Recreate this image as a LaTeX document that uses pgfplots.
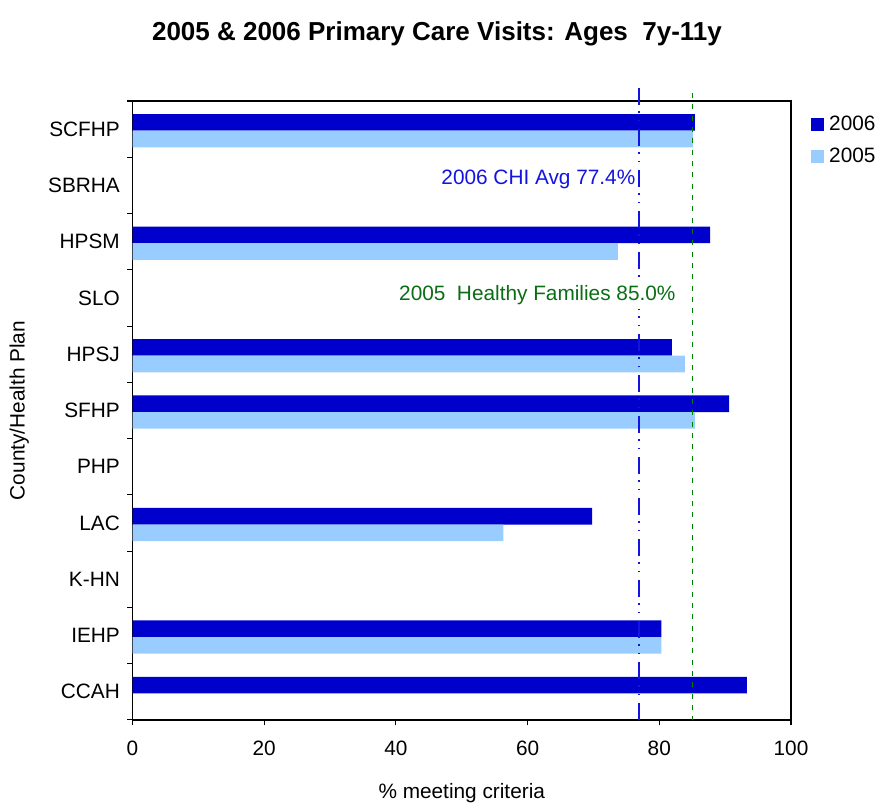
\documentclass[border=0pt]{standalone}
\usepackage{pgfplots}
\pgfplotsset{compat=1.18}
\usepackage{fontspec}
\setmainfont{Liberation Sans}
\definecolor{darkbar}{RGB}{0,0,204}
\definecolor{lightbar}{RGB}{153,204,255}
\definecolor{refblue}{RGB}{20,20,225}
\definecolor{refgreen}{RGB}{0,128,0}
\definecolor{txtgreen}{RGB}{10,110,20}
\newcommand\tf{\fontsize{15.6}{18}\selectfont}
\begin{document}
\begin{tikzpicture}
\useasboundingbox (-99.4pt,-63.75pt) rectangle (558.4pt,540pt);
\begin{axis}[
  scale only axis,
  width=493.9pt, height=464.25pt,
  xmin=0, xmax=100, ymin=-0.5, ymax=10.5,
  xbar, bar width=0.295,
  clip=false,
  axis line style={line width=1pt},
  xtick={0,20,40,60,80,100},
  ytick={0,...,10},
  yticklabels={CCAH,IEHP,K-HN,LAC,PHP,SFHP,HPSJ,SLO,HPSM,SBRHA,SCFHP},
  minor ytick={-0.5,0.5,...,10.5},
  tick align=outside,
  xtick pos=bottom, ytick pos=left,
  major tick length=4pt, minor tick length=4pt,
  y tick style={draw=none},
  minor y tick style={draw=black, line width=0.8pt},
  x tick style={line width=0.8pt, black},
  /pgf/number format/assume math mode=true,
  tick label style={font=\tf},
  xticklabel style={yshift=-8pt},
  yticklabel style={xshift=-2pt},
  xlabel={\% meeting criteria},
  ylabel={County/Health Plan},
  xlabel style={font=\tf, at={(axis description cs:0.5,-0.118)}, anchor=center},
  ylabel style={font=\tf, at={(axis description cs:-0.172,0.5)}, anchor=center},
  legend style={at={(axis description cs:1.028,0.982)}, anchor=north west, draw=none, fill=none, font=\tf, row sep=7.5pt, inner sep=1pt},
  legend cell align=left,
  legend image code/.code={\fill[#1] (0pt,-4.8pt) rectangle (9.6pt,4.8pt);},
]
\addplot[fill=darkbar, draw=none, bar shift=0.12] coordinates {
  (93.3,0) (80.3,1) (69.8,3) (90.6,5) (81.9,6) (87.7,8) (85.4,10)
};
\addlegendentry{\hspace{2pt}2006}
\addplot[fill=lightbar, draw=none, bar shift=-0.175] coordinates {
  (80.3,1) (56.3,3) (85.4,5) (83.9,6) (73.7,8) (85.1,10)
};
\addlegendentry{\hspace{2pt}2005}
\addplot[forget plot, no marks, sharp plot, refblue, line width=1.5pt,
  dash pattern=on 12.5pt off 5pt on 1pt off 5.5pt on 1pt off 5.75pt]
  coordinates {(76.9,10.73) (76.9,-0.5)};
\addplot[forget plot, no marks, sharp plot, refgreen, line width=1.1pt,
  dash pattern=on 3.75pt off 4.75pt]
  coordinates {(85.0,10.64) (85.0,-0.5)};
\node[anchor=east, text=refblue, font=\tf, fill=white, inner xsep=1pt, inner ysep=3pt] at (axis cs:76.6,9.1) {2006 CHI Avg 77.4\%};
\node[anchor=east, text=txtgreen, font=\tf, fill=white, inner xsep=1pt, inner ysep=3pt] at (axis cs:82.7,7.05) {2005\ \ Healthy Families 85.0\%};
\node[font=\fontsize{19.5}{22}\selectfont\bfseries] at (axis description cs:0.4624,1.108) {2005 \& 2006 Primary Care Visits: Ages\ \ 7y-11y};
\end{axis}
\end{tikzpicture}
\end{document}
